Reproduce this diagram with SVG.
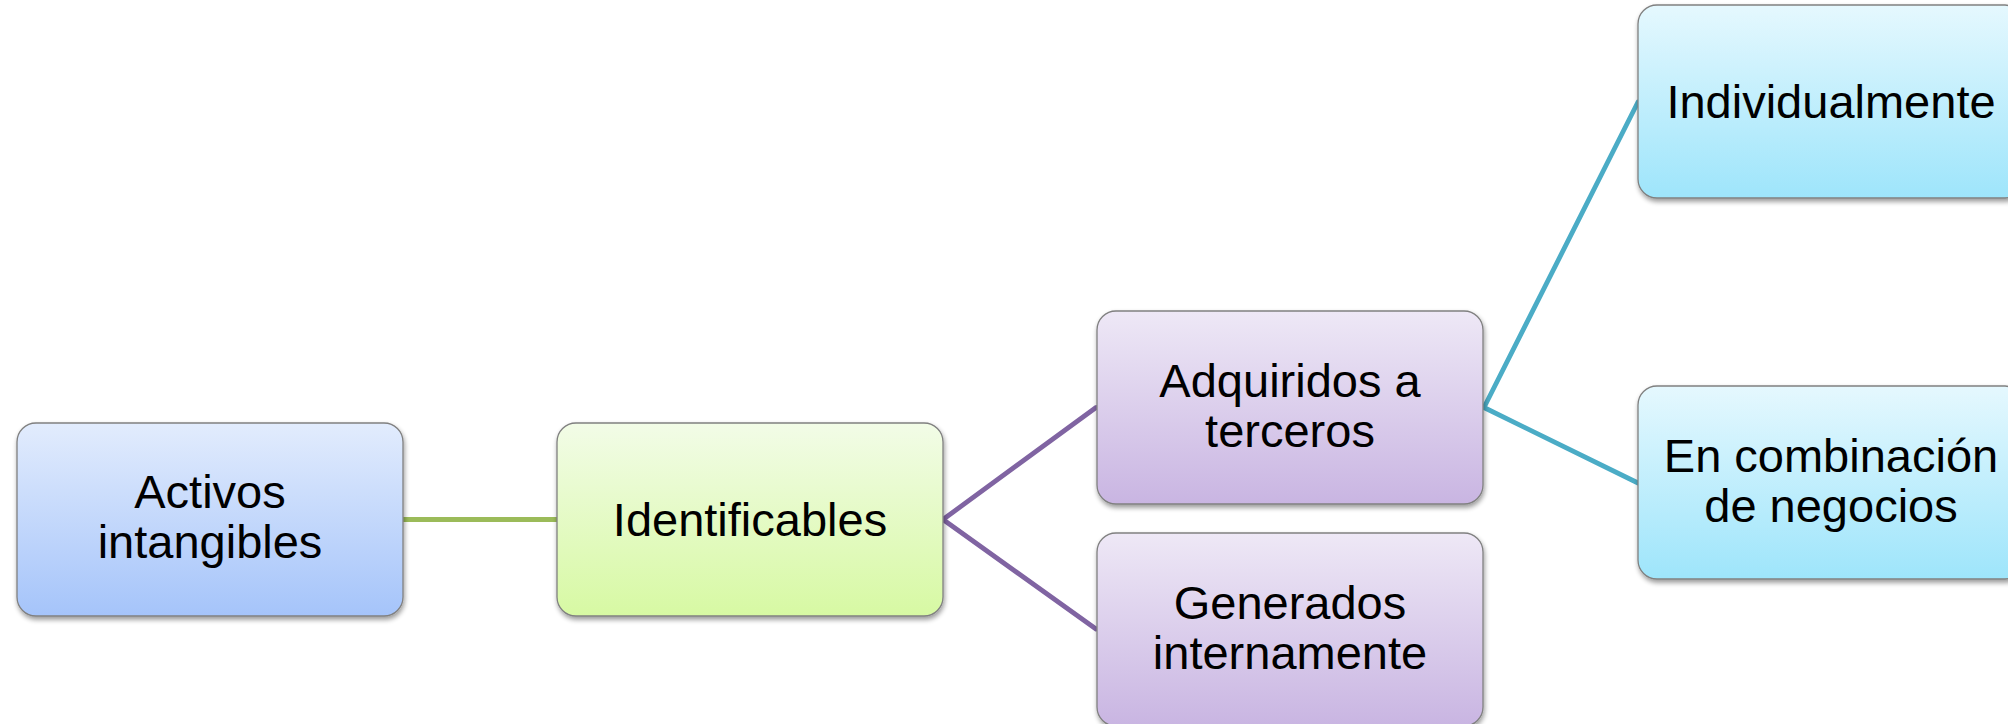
<svg xmlns="http://www.w3.org/2000/svg" width="2008" height="724" viewBox="0 0 2008 724">
  <style>
    .box { stroke: #808080; stroke-width: 1.3; filter: url(#shadow); }
    .lbl { font-family: "Liberation Sans", Arial, sans-serif; font-size: 47px; fill: #000000; text-anchor: middle; }
    .conn { fill: none; stroke-width: 4.8; stroke-linecap: round; }
  </style>
  <defs>
    <filter id="shadow" x="-10%" y="-10%" width="120%" height="125%">
      <feGaussianBlur in="SourceAlpha" stdDeviation="2.5"/>
      <feOffset dx="1" dy="3" result="b"/>
      <feComponentTransfer><feFuncA type="linear" slope="0.4"/></feComponentTransfer>
      <feMerge><feMergeNode/><feMergeNode in="SourceGraphic"/></feMerge>
    </filter>
    <linearGradient id="gBlue" x1="0" y1="0" x2="0" y2="1">
      <stop offset="0" stop-color="#e2ecfd"/>
      <stop offset="1" stop-color="#a5c4fa"/>
    </linearGradient>
    <linearGradient id="gGreen" x1="0" y1="0" x2="0" y2="1">
      <stop offset="0" stop-color="#f2fce7"/>
      <stop offset="1" stop-color="#d7f9a3"/>
    </linearGradient>
    <linearGradient id="gPurple" x1="0" y1="0" x2="0" y2="1">
      <stop offset="0" stop-color="#eee8f6"/>
      <stop offset="1" stop-color="#c9b5e2"/>
    </linearGradient>
    <linearGradient id="gCyan" x1="0" y1="0" x2="0" y2="1">
      <stop offset="0" stop-color="#e5f8fe"/>
      <stop offset="1" stop-color="#9ee5fb"/>
    </linearGradient>
  </defs>
  <rect width="2008" height="724" fill="#ffffff"/>

  <g id="connectors">
    <line class="conn" x1="403" y1="519.5" x2="557" y2="519.5" stroke="#9bbb59"/>
    <line class="conn" x1="943" y1="519.5" x2="1096" y2="407.5" stroke="#8064a2"/>
    <line class="conn" x1="943" y1="519.5" x2="1096" y2="629" stroke="#8064a2"/>
    <line class="conn" x1="1484" y1="407.5" x2="1638" y2="102" stroke="#4bacc6"/>
    <line class="conn" x1="1484" y1="407.5" x2="1638" y2="483" stroke="#4bacc6"/>
  </g>

  <g id="node-activos">
    <rect class="box" x="17" y="423" width="386" height="193" rx="19" fill="url(#gBlue)"/>
    <text class="lbl" x="210" y="508">Activos</text>
    <text class="lbl" x="210" y="558">intangibles</text>
  </g>

  <g id="node-identificables">
    <rect class="box" x="557" y="423" width="386" height="193" rx="19" fill="url(#gGreen)"/>
    <text class="lbl" x="750" y="536">Identificables</text>
  </g>

  <g id="node-adquiridos">
    <rect class="box" x="1097" y="311" width="386" height="193" rx="19" fill="url(#gPurple)"/>
    <text class="lbl" x="1290" y="397">Adquiridos a</text>
    <text class="lbl" x="1290" y="447">terceros</text>
  </g>

  <g id="node-generados">
    <rect class="box" x="1097" y="533" width="386" height="193" rx="19" fill="url(#gPurple)"/>
    <text class="lbl" x="1290" y="619">Generados</text>
    <text class="lbl" x="1290" y="669">internamente</text>
  </g>

  <g id="node-individualmente">
    <rect class="box" x="1638" y="5" width="386" height="193" rx="19" fill="url(#gCyan)"/>
    <text class="lbl" x="1831" y="118">Individualmente</text>
  </g>

  <g id="node-combinacion">
    <rect class="box" x="1638" y="386" width="386" height="193" rx="19" fill="url(#gCyan)"/>
    <text class="lbl" x="1831" y="472">En combinación</text>
    <text class="lbl" x="1831" y="522">de negocios</text>
  </g>
</svg>
